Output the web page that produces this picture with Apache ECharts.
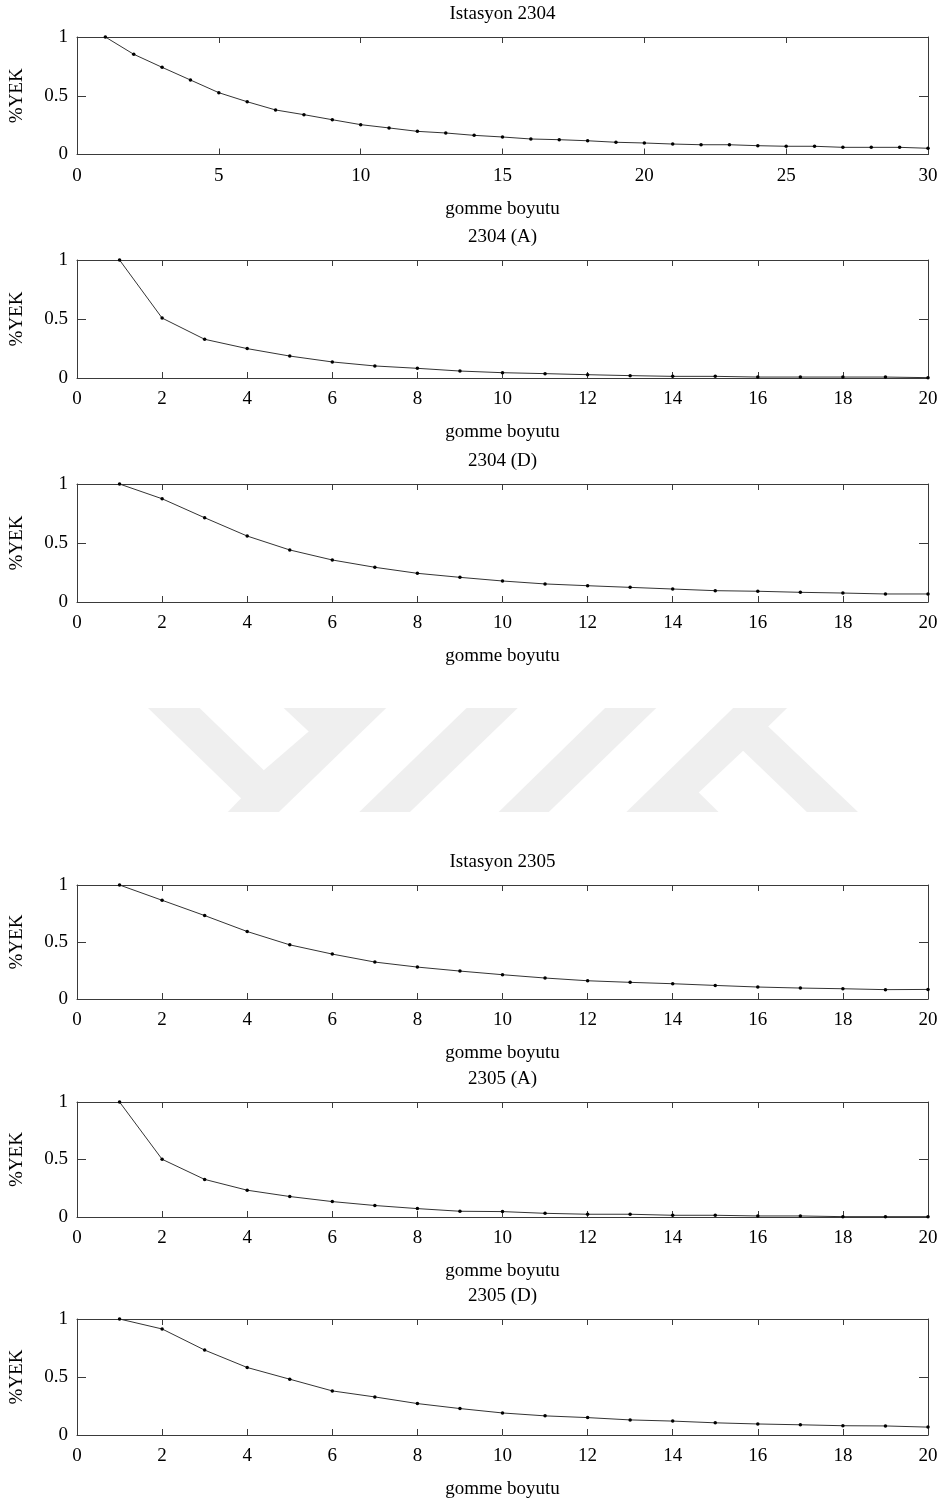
<!DOCTYPE html>
<html>
<head>
<meta charset="utf-8">
<script src="https://cdn.jsdelivr.net/npm/echarts@6/dist/echarts.min.js"></script>
<style>
  html, body { margin: 0; padding: 0; background: #fff; }
  #chart { width: 943px; height: 1503px; }
</style>
</head>
<body>
<div id="chart"></div>
<script>
// Embedding sizes (gomme boyutu)
const sizes30 = [1, 2, 3, 4, 5, 6, 7, 8, 9, 10, 11, 12, 13, 14, 15, 16, 17, 18, 19, 20, 21, 22, 23, 24, 25, 26, 27, 28, 29, 30];
const sizes20 = [1, 2, 3, 4, 5, 6, 7, 8, 9, 10, 11, 12, 13, 14, 15, 16, 17, 18, 19, 20];

// Panel titles
const titles = ['Istasyon 2304', '2304 (A)', '2304 (D)', 'Istasyon 2305', '2305 (A)', '2305 (D)'];
const xAxisName = 'gomme boyutu';
const yAxisName = '%YEK';

// %YEK values per station / sub-series
const yek2304  = [1, 0.853, 0.742, 0.634, 0.526, 0.449, 0.379, 0.339, 0.296, 0.254, 0.226, 0.197, 0.183, 0.163, 0.149, 0.132, 0.126, 0.117, 0.104, 0.098, 0.089, 0.083, 0.083, 0.075, 0.070, 0.070, 0.061, 0.061, 0.061, 0.053];
const yek2304A = [1, 0.508, 0.328, 0.249, 0.186, 0.136, 0.102, 0.082, 0.059, 0.045, 0.037, 0.028, 0.020, 0.014, 0.014, 0.008, 0.008, 0.008, 0.008, 0.003];
const yek2304D = [1, 0.875, 0.714, 0.559, 0.441, 0.356, 0.294, 0.243, 0.209, 0.178, 0.153, 0.138, 0.124, 0.110, 0.096, 0.091, 0.082, 0.076, 0.068, 0.068];
const yek2305  = [1, 0.866, 0.732, 0.592, 0.475, 0.394, 0.324, 0.280, 0.245, 0.213, 0.184, 0.160, 0.146, 0.134, 0.119, 0.105, 0.096, 0.090, 0.082, 0.084];
const yek2305A = [1, 0.502, 0.327, 0.233, 0.178, 0.134, 0.100, 0.073, 0.050, 0.047, 0.032, 0.024, 0.024, 0.015, 0.015, 0.009, 0.009, 0.003, 0.003, 0.003];
const yek2305D = [1, 0.914, 0.732, 0.582, 0.481, 0.380, 0.328, 0.271, 0.228, 0.190, 0.165, 0.150, 0.130, 0.120, 0.105, 0.095, 0.088, 0.080, 0.078, 0.068];

// Axis ranges
const xMax30 = 30, xStep30 = 5;
const xMax20 = 20, xStep20 = 2;
const yMin = 0, yMax = 1, yStep = 0.5;

// Panel layout (pixels)
const panels = [
  { title: titles[0], x: sizes30, y: yek2304,  xMax: xMax30, xStep: xStep30, top: 37,   h: 117.5 },
  { title: titles[1], x: sizes20, y: yek2304A, xMax: xMax20, xStep: xStep20, top: 260,  h: 118 },
  { title: titles[2], x: sizes20, y: yek2304D, xMax: xMax20, xStep: xStep20, top: 484,  h: 118 },
  { title: titles[3], x: sizes20, y: yek2305,  xMax: xMax20, xStep: xStep20, top: 885,  h: 114 },
  { title: titles[4], x: sizes20, y: yek2305A, xMax: xMax20, xStep: xStep20, top: 1102, h: 115 },
  { title: titles[5], x: sizes20, y: yek2305D, xMax: xMax20, xStep: xStep20, top: 1319, h: 116 }
];

const LEFT = 77, WIDTH = 851;
const FONT = '"Liberation Serif", "Times New Roman", serif';
const FS = 19;
const FRAME = '#3a3a3a';

const textStyle = { fontFamily: FONT, fontSize: FS, color: '#000' };

const grid = [], xAxis = [], yAxis = [], series = [], graphic = [];

panels.forEach((p, i) => {
  grid.push({ left: LEFT, width: WIDTH, top: p.top, height: p.h });

  const xBase = {
    type: 'value', gridIndex: i, min: 0, max: p.xMax, interval: p.xStep,
    axisLine: { show: true, onZero: false, lineStyle: { color: FRAME, width: 1 } },
    axisTick: { show: true, inside: true, length: 6, lineStyle: { color: FRAME, width: 1 } },
    splitLine: { show: false }
  };
  xAxis.push(Object.assign({}, xBase, {
    position: 'bottom',
    axisLabel: Object.assign({ margin: 12 }, textStyle),
    name: xAxisName, nameLocation: 'middle', nameGap: 45, nameTextStyle: textStyle
  }));
  xAxis.push(Object.assign({}, xBase, { position: 'top', axisLabel: { show: false } }));

  const yBase = {
    type: 'value', gridIndex: i, min: yMin, max: yMax, interval: yStep,
    axisLine: { show: true, onZero: false, lineStyle: { color: FRAME, width: 1 } },
    axisTick: { show: true, inside: true, length: 9, lineStyle: { color: FRAME, width: 1 } },
    splitLine: { show: false }
  };
  yAxis.push(Object.assign({}, yBase, {
    position: 'left',
    axisLabel: Object.assign({ margin: 9 }, textStyle),
    name: yAxisName, nameLocation: 'middle', nameRotate: 90, nameGap: 50, nameTextStyle: textStyle
  }));
  yAxis.push(Object.assign({}, yBase, { position: 'right', axisLabel: { show: false } }));

  series.push({
    type: 'line',
    xAxisIndex: 2 * i, yAxisIndex: 2 * i,
    data: p.x.map((v, k) => [v, p.y[k]]),
    symbol: 'circle', symbolSize: 3.5,
    lineStyle: { color: '#333', width: 1 },
    itemStyle: { color: '#000' },
    silent: true
  });

  graphic.push({
    type: 'text', x: LEFT + WIDTH / 2, y: p.top - 23,
    style: { text: p.title, align: 'center', verticalAlign: 'middle', font: FS + 'px ' + FONT, fill: '#000' }
  });
});

// Light grey logo shapes in the gap between the two stations
const logoShapes = [
  [[148, 708], [199.5, 708], [263.8, 770.2], [308.7, 731.4], [283.7, 708], [386.2, 708], [278.9, 812], [227.9, 812], [241.1, 798.3]],
  [[466.6, 708], [517.7, 708], [409.9, 812], [359.3, 812]],
  [[605.1, 708], [656.2, 708], [548.8, 812], [498.7, 812]],
  [[733.2, 708], [787.1, 708], [768.2, 726.4], [858, 812], [806.9, 812], [743.1, 750.8], [698.7, 792.6], [718.5, 812], [626.4, 812]]
];
logoShapes.forEach(pts => {
  graphic.push({ type: 'polygon', z: -10, silent: true, shape: { points: pts }, style: { fill: '#efefef' } });
});

const chart = echarts.init(document.getElementById('chart'), null, { renderer: 'canvas' });
chart.setOption({
  animation: false,
  backgroundColor: '#fff',
  grid, xAxis, yAxis, series, graphic
});
</script>
</body>
</html>
